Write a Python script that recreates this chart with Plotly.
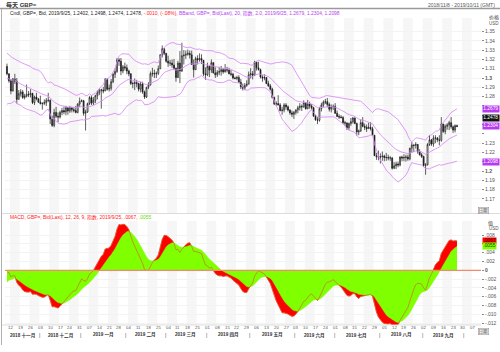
import plotly.graph_objects as go
import pandas as pd

W, H = 500, 352

# ---------------- data (GBP= daily) ----------------
# warm-up closes (2018-09-03 .. 2018-11-07) used for the indicators
warm_close = [
    1.2865, 1.2855, 1.2930, 1.2950, 1.2925,
    1.3035, 1.3030, 1.3045, 1.3115, 1.3070,
    1.3150, 1.3140, 1.3180, 1.3270, 1.3070,
    1.3095, 1.3195, 1.3185, 1.3080, 1.3030,
    1.3055, 1.2970, 1.2975, 1.3045, 1.3115,
    1.3060, 1.3135, 1.3190, 1.3235, 1.3150,
    1.3160, 1.3165, 1.3105, 1.3030, 1.3060,
    1.2975, 1.2970, 1.2900, 1.2820, 1.2805,
    1.2795, 1.2710, 1.2770, 1.2995, 1.2970,
    1.3045, 1.3085, 1.3125,
]

close = [
    1.3045, 1.2970,
    1.2860, 1.2990, 1.2965, 1.2770, 1.2830,
    1.2850, 1.2790, 1.2805, 1.2825, 1.2820,
    1.2835, 1.2735, 1.2795, 1.2775, 1.2740,
    1.2725, 1.2725, 1.2735, 1.2760, 1.2760,
    1.2560, 1.2490, 1.2630, 1.2590, 1.2580,
    1.2630, 1.2650, 1.2635, 1.2680, 1.2645,
    1.2680, 1.2660, 1.2650, 1.2630, 1.2720,
    1.2750, 1.2755, 1.2620, 1.2635, 1.2725,
    1.2790, 1.2730, 1.2760, 1.2810, 1.2840,
    1.2870, 1.2870, 1.2860, 1.2985, 1.2880,
    1.2890, 1.2960, 1.3040, 1.3070, 1.3195,
    1.3180, 1.3075, 1.3120, 1.3110, 1.3075,
    1.3045, 1.2940, 1.2940, 1.2950, 1.2940,
    1.2880, 1.2935, 1.2850, 1.2795, 1.2900,
    1.2925, 1.3045, 1.3050, 1.3045, 1.3050,
    1.3100, 1.3250, 1.3315, 1.3265, 1.3180,
    1.3160, 1.3160, 1.3140, 1.3105, 1.3005,
    1.3160, 1.3075, 1.3240, 1.3245, 1.3255,
    1.3265, 1.3250, 1.3145, 1.3090, 1.3210,
    1.3195, 1.3210, 1.3190, 1.3045, 1.3035,
    1.3125, 1.3085, 1.3165, 1.3055, 1.3035,
    1.3060, 1.3070, 1.3090, 1.3065, 1.3090,
    1.3085, 1.3045, 1.3040, 1.3000, 1.2995,
    1.3005, 1.2955, 1.2905, 1.2890, 1.2920,
    1.2935, 1.3035, 1.3045, 1.3030, 1.3170,
    1.3110, 1.3090, 1.3010, 1.3000, 1.3005,
    1.2940, 1.2915, 1.2880, 1.2790, 1.2720,
    1.2725, 1.2710, 1.2650, 1.2655, 1.2710,
    1.2690, 1.2655, 1.2625, 1.2610, 1.2630,
    1.2655, 1.2680, 1.2695, 1.2690, 1.2735,
    1.2670, 1.2720, 1.2700, 1.2680, 1.2590,
    1.2550, 1.2545, 1.2670, 1.2710, 1.2740,
    1.2745, 1.2715, 1.2665, 1.2690, 1.2695,
    1.2620, 1.2585, 1.2580, 1.2575, 1.2520,
    1.2515, 1.2465, 1.2510, 1.2530, 1.2570,
    1.2510, 1.2420, 1.2430, 1.2520, 1.2480,
    1.2470, 1.2455, 1.2470, 1.2455, 1.2385,
    1.2165, 1.2155, 1.2150, 1.2155, 1.2160,
    1.2145, 1.2145, 1.2140, 1.2140, 1.2030,
    1.2055, 1.2075, 1.2065, 1.2150, 1.2140,
    1.2145, 1.2150, 1.2130, 1.2245, 1.2280,
    1.2275, 1.2285, 1.2210, 1.2175, 1.2155,
    1.2060, 1.2065, 1.2285, 1.2335, 1.2290,
    1.2355, 1.2355, 1.2335, 1.2330, 1.2505,
    1.2425, 1.2480, 1.2495, 1.2520, 1.2475,
    1.2440, 1.2488, 1.2478,
]

high = [
    1.3155, 1.3050,
    1.2990, 1.3000, 1.3045, 1.3000, 1.2870,
    1.2880, 1.2870, 1.2830, 1.2930, 1.2860,
    1.2880, 1.2840, 1.2810, 1.2840, 1.2785,
    1.2810, 1.2740, 1.2770, 1.2785, 1.2840,
    1.2770, 1.2595, 1.2670, 1.2690, 1.2630,
    1.2650, 1.2680, 1.2690, 1.2700, 1.2685,
    1.2700, 1.2690, 1.2685, 1.2700, 1.2730,
    1.2790, 1.2770, 1.2765, 1.2660, 1.2735,
    1.2805, 1.2815, 1.2795, 1.2820, 1.2865,
    1.2890, 1.2885, 1.2905, 1.3000, 1.3000,
    1.2930, 1.2990, 1.3055, 1.3105, 1.3215,
    1.3215, 1.3215, 1.3140, 1.3165, 1.3145,
    1.3090, 1.3050, 1.2960, 1.2995, 1.2980,
    1.2950, 1.2960, 1.2960, 1.2865, 1.2905,
    1.2955, 1.3070, 1.3110, 1.3090, 1.3070,
    1.3135, 1.3255, 1.3350, 1.3320, 1.3270,
    1.3240, 1.3195, 1.3200, 1.3205, 1.3110,
    1.3185, 1.3290, 1.3380, 1.3300, 1.3295,
    1.3305, 1.3295, 1.3295, 1.3200, 1.3230,
    1.3245, 1.3265, 1.3255, 1.3180, 1.3115,
    1.3165, 1.3135, 1.3200, 1.3170, 1.3115,
    1.3085, 1.3120, 1.3130, 1.3105, 1.3150,
    1.3120, 1.3110, 1.3085, 1.3055, 1.3015,
    1.3025, 1.3030, 1.2990, 1.2940, 1.2945,
    1.2975, 1.3070, 1.3105, 1.3075, 1.3185,
    1.3175, 1.3175, 1.3100, 1.3030, 1.3040,
    1.3010, 1.2970, 1.2935, 1.2895, 1.2800,
    1.2750, 1.2815, 1.2730, 1.2690, 1.2730,
    1.2730, 1.2705, 1.2665, 1.2650, 1.2645,
    1.2665, 1.2700, 1.2730, 1.2715, 1.2760,
    1.2730, 1.2765, 1.2745, 1.2720, 1.2690,
    1.2600, 1.2580, 1.2690, 1.2735, 1.2760,
    1.2775, 1.2785, 1.2735, 1.2715, 1.2715,
    1.2730, 1.2650, 1.2610, 1.2600, 1.2590,
    1.2540, 1.2525, 1.2520, 1.2570, 1.2580,
    1.2575, 1.2520, 1.2445, 1.2555, 1.2580,
    1.2510, 1.2500, 1.2520, 1.2525, 1.2475,
    1.2385, 1.2195, 1.2220, 1.2190, 1.2210,
    1.2175, 1.2195, 1.2175, 1.2160, 1.2150,
    1.2095, 1.2100, 1.2100, 1.2160, 1.2165,
    1.2180, 1.2175, 1.2175, 1.2250, 1.2310,
    1.2285, 1.2310, 1.2290, 1.2235, 1.2195,
    1.2165, 1.2085, 1.2300, 1.2385, 1.2345,
    1.2385, 1.2385, 1.2365, 1.2385, 1.2580,
    1.2500, 1.2500, 1.2515, 1.2540, 1.2580,
    1.2490, 1.2500, 1.2498,
]

low = [
    1.3030, 1.2950,
    1.2825, 1.2855, 1.2935, 1.2725, 1.2770,
    1.2800, 1.2775, 1.2770, 1.2790, 1.2795,
    1.2790, 1.2720, 1.2710, 1.2760, 1.2735,
    1.2715, 1.2660, 1.2710, 1.2700, 1.2740,
    1.2505, 1.2475, 1.2470, 1.2570, 1.2525,
    1.2565, 1.2600, 1.2610, 1.2600, 1.2605,
    1.2625, 1.2630, 1.2630, 1.2620, 1.2620,
    1.2690, 1.2740, 1.2595, 1.2435, 1.2625,
    1.2710, 1.2710, 1.2710, 1.2730, 1.2770,
    1.2815, 1.2670, 1.2835, 1.2860, 1.2865,
    1.2855, 1.2865, 1.2945, 1.3000, 1.3055,
    1.3130, 1.3030, 1.3050, 1.3080, 1.3040,
    1.3020, 1.2925, 1.2890, 1.2870, 1.2900,
    1.2855, 1.2845, 1.2830, 1.2775, 1.2785,
    1.2880, 1.2920, 1.3015, 1.3000, 1.3000,
    1.3030, 1.3095, 1.3220, 1.3245, 1.3165,
    1.3120, 1.3130, 1.3110, 1.3085, 1.2960,
    1.3000, 1.2945, 1.3065, 1.3145, 1.3205,
    1.3240, 1.3210, 1.3140, 1.3005, 1.3085,
    1.3145, 1.3175, 1.3150, 1.3020, 1.2980,
    1.3020, 1.3010, 1.3055, 1.3050, 1.3000,
    1.3010, 1.3030, 1.3025, 1.3045, 1.3060,
    1.3060, 1.3040, 1.3020, 1.2985, 1.2985,
    1.2975, 1.2950, 1.2880, 1.2865, 1.2870,
    1.2905, 1.2930, 1.2995, 1.2985, 1.3020,
    1.3080, 1.3080, 1.2995, 1.2960, 1.2975,
    1.2935, 1.2905, 1.2865, 1.2780, 1.2710,
    1.2700, 1.2705, 1.2640, 1.2605, 1.2630,
    1.2660, 1.2640, 1.2605, 1.2580, 1.2560,
    1.2605, 1.2620, 1.2650, 1.2645, 1.2680,
    1.2660, 1.2665, 1.2670, 1.2660, 1.2585,
    1.2540, 1.2505, 1.2530, 1.2640, 1.2685,
    1.2720, 1.2685, 1.2640, 1.2630, 1.2655,
    1.2615, 1.2580, 1.2560, 1.2565, 1.2505,
    1.2485, 1.2440, 1.2440, 1.2485, 1.2510,
    1.2505, 1.2380, 1.2385, 1.2420, 1.2470,
    1.2440, 1.2420, 1.2455, 1.2435, 1.2380,
    1.2160, 1.2120, 1.2115, 1.2080, 1.2110,
    1.2105, 1.2110, 1.2115, 1.2110, 1.2015,
    1.2020, 1.2020, 1.2040, 1.2050, 1.2105,
    1.2105, 1.2100, 1.2110, 1.2115, 1.2195,
    1.2205, 1.2240, 1.2185, 1.2165, 1.2140,
    1.2045, 1.1960, 1.2060, 1.2270, 1.2270,
    1.2260, 1.2300, 1.2310, 1.2275, 1.2315,
    1.2410, 1.2395, 1.2445, 1.2440, 1.2455,
    1.2410, 1.2415, 1.2474,
]

month_names = ["一月", "二月", "三月", "四月", "五月", "六月",
               "七月", "八月", "九月", "十月", "十一月", "十二月"]

header_cndl = "Cndl, GBP=, Bid, 2019/9/25, 1.2402, 1.2498, 1.2474, 1.2478, "
header_chg = "-.0010, (-.08%), "
header_bb = "BBand, GBP=, Bid(Last), 20, 指数, 2.0, 2019/9/25, 1.2679, 1.2304, 1.2098"
header_macd = "MACD, GBP=, Bid(Last), 12, 26, 9, 指数, 2019/9/25, .0067, "
header_sig = ".0055"
price_boxes = ["1.2679", "1.2478", "1.2304", "1.2098"]
macd_boxes = [".0067", ".0055"]

# ---------------- derived series ----------------
cal = pd.bdate_range("2018-11-08", "2019-10-11")
n = len(close)
idx = list(range(n))
full = pd.Series(warm_close + close)
opn = [warm_close[-1]] + close[:-1]

ema12 = full.ewm(span=12, adjust=False).mean()
ema26 = full.ewm(span=26, adjust=False).mean()
macd_full = ema12 - ema26
sig_full = macd_full.ewm(span=9, adjust=False).mean()
mid_full = full.ewm(span=20, adjust=False).mean()
sd_full = full.rolling(20).std(ddof=0)
k = len(warm_close)
macd = macd_full[k:].tolist()
sig = sig_full[k:].tolist()
mid = mid_full[k:].tolist()
upper = (mid_full + 2 * sd_full)[k:].tolist()
lower = (mid_full - 2 * sd_full)[k:].tolist()

# ---------------- geometry helpers ----------------
def px(x):
    return x / W

def py(y):
    return 1 - y / H

X0, X1 = 5, 481
P_TOP, P_BOT = 18, 213
M_TOP, M_BOT = 221, 325
P_RANGE = [1.30 - (P_BOT - 78) / 930, 1.30 + (78 - P_TOP) / 930]
M_RANGE = [-(M_BOT - 270.3) / 4400, (270.3 - M_TOP) / 4400]
XR = [-1.0, 241.2]

FONT = "Liberation Sans, Arial, Noto Sans CJK SC, sans-serif"
BAND = "#d98ef5"
PURPLE = "#b73cf0"

fig = go.Figure()

fig.add_trace(go.Candlestick(
    x=idx, open=opn, high=high, low=low, close=close,
    increasing=dict(line=dict(color="#1a1a1a", width=0.7), fillcolor="#ffffff"),
    decreasing=dict(line=dict(color="#1a1a1a", width=0.7), fillcolor="#1a1a1a"),
    whiskerwidth=0, xaxis="x", yaxis="y", showlegend=False, hoverinfo="skip",
))
for band in (upper, mid, lower):
    fig.add_trace(go.Scatter(x=idx, y=band, mode="lines", line=dict(color=BAND, width=0.9),
                             xaxis="x", yaxis="y", showlegend=False, hoverinfo="skip"))

fig.add_trace(go.Scatter(x=idx, y=macd, mode="lines", fill="tozeroy", fillcolor="#ff0000",
                         line=dict(color="#ff0000", width=0.5), xaxis="x2", yaxis="y2",
                         showlegend=False, hoverinfo="skip"))
fig.add_trace(go.Scatter(x=idx, y=sig, mode="lines", fill="tozeroy", fillcolor="#80ff00",
                         line=dict(color="#80ff00", width=0.5), xaxis="x2", yaxis="y2",
                         showlegend=False, hoverinfo="skip"))
fig.add_trace(go.Scatter(x=idx, y=macd, mode="lines", line=dict(color="#cc6e2e", width=0.7),
                         xaxis="x2", yaxis="y2", showlegend=False, hoverinfo="skip"))

shapes = []
# alternating weekly stripes
mondays = [i for i, d in enumerate(cal) if d.weekday() == 0]
for j, m in enumerate(mondays):
    if j % 2 == 0:
        for yr in ("y domain", "y2 domain"):
            shapes.append(dict(type="rect", xref="x", yref=yr, x0=m - 0.5, x1=min(m + 4.5, XR[1]),
                               y0=0, y1=1, fillcolor="#f6f6f6", line=dict(width=0), layer="below"))
# zero line of MACD
shapes.append(dict(type="line", xref="x domain", yref="y2", x0=0, x1=1, y0=0, y1=0,
                   line=dict(color="#f08a6a", width=1.3)))
# frame lines
shapes.append(dict(type="line", xref="paper", yref="paper", x0=0, x1=1, y0=py(8.5), y1=py(8.5),
                   line=dict(color="#9a9a9a", width=1.5)))
shapes.append(dict(type="line", xref="paper", yref="paper", x0=px(1.5), x1=px(1.5), y0=py(9), y1=py(345),
                   line=dict(color="#b0b0b0", width=1)))
shapes.append(dict(type="line", xref="paper", yref="paper", x0=px(2), x1=1, y0=py(213.5), y1=py(213.5),
                   line=dict(color="#dcdcdc", width=1)))
shapes.append(dict(type="line", xref="paper", yref="paper", x0=px(2), x1=px(X1), y0=py(325), y1=py(325),
                   line=dict(color="#dcdcdc", width=1)))

ann = []
def text(x, y, s, size=5, color="#333", anchor="left", bold=False):
    ann.append(dict(x=px(x), y=py(y), xref="paper", yref="paper", text=("<b>%s</b>" % s) if bold else s,
                    showarrow=False, xanchor=anchor, yanchor="middle",
                    font=dict(size=size, color=color, family=FONT)))

text(4, 4.5, "每天 GBP=", size=6, color="#333", bold=True)
text(497, 4.5, "2018/11/8 - 2019/10/11 (GMT)", size=5, color="#555", anchor="right")
text(8, 13, header_cndl + "<span style='color:#ff2020'>" + header_chg + "</span>"
     + "<span style='color:%s'>" % PURPLE + header_bb + "</span>", size=4.9, color="#222")
text(8, 217.5, header_macd + "<span style='color:#66dd00'>" + header_sig + "</span>",
     size=4.9, color="#ff2020")

text(487, 17, "价格", size=5, color="#333")
text(487, 24, "USD", size=4.5, color="#555")
text(486, 223, "值", size=5, color="#333")
text(487, 229, "USD", size=4.5, color="#555")
for yv in (210.5, 331):
    ann.append(dict(x=px(489), y=py(yv), xref="paper", yref="paper", text="日期", showarrow=False,
                    yanchor="middle",
                    font=dict(size=4.5, color="#333", family=FONT), bordercolor="#888", borderwidth=0.5,
                    borderpad=0, bgcolor="#f8f8f8"))

# value boxes on right axis
box_y = [108.5, 118, 126.3, 162]
box_bg = [PURPLE, "#111111", PURPLE, PURPLE]
for lab, yy, bg in zip(price_boxes, box_y, box_bg):
    ann.append(dict(x=px(482), y=py(yy), xref="paper", yref="paper", text=lab, showarrow=False,
                    xanchor="left", yanchor="middle", bgcolor=bg, borderpad=0.3,
                    font=dict(size=4.8, color="#ffffff", family=FONT)))
for lab, yy, bg, fc in zip(macd_boxes, [240.5, 246], ["#ff0000", "#80ff00"], ["#550000", "#224400"]):
    ann.append(dict(x=px(482), y=py(yy), xref="paper", yref="paper", text=lab, showarrow=False,
                    xanchor="left", yanchor="middle", bgcolor=bg, borderpad=0.3,
                    font=dict(size=4.8, color=fc, family=FONT)))

# day labels
for m in mondays:
    ann.append(dict(x=m, y=py(327.5), xref="x2", yref="paper", text=cal[m].strftime("%d"),
                    showarrow=False, font=dict(size=4.3, color="#555", family=FONT), yanchor="middle"))
# month labels & separators
months = {}
for i, d in enumerate(cal):
    months.setdefault((d.year, d.month), []).append(i)
for (yr, mo), ids in months.items():
    a = max(ids[0] - 0.5, XR[0])
    b = min(ids[-1] + 0.5, XR[1])
    if ids[0] > 0:
        ann.append(dict(x=ids[0] - 0.5, y=py(335), xref="x2", yref="paper", text="|", showarrow=False,
                        font=dict(size=5, color="#444", family=FONT), yanchor="middle"))
    if b - a > 10:
        ann.append(dict(x=(a + b) / 2, y=py(335), xref="x2", yref="paper",
                        text="<b>%d %s</b>" % (yr, month_names[mo - 1]), showarrow=False,
                        font=dict(size=4.6, color="#333", family=FONT), yanchor="middle"))

# right-axis ticks (labels hidden where a value box sits on top)
p_ticks = [round(1.17 + 0.01 * j, 2) for j in range(19)]
hidden_p = {1.21, 1.24, 1.25, 1.26, 1.27}
p_text = []
for t in p_ticks:
    if t in hidden_p:
        p_text.append("")
    elif abs(t - 1.3) < 1e-9:
        p_text.append("<b>1.3</b>")
    elif abs(t - 1.2) < 1e-9:
        p_text.append("<b>1.2</b>")
    else:
        p_text.append("%.2f" % t)
m_ticks = [round(-0.012 + 0.002 * j, 3) for j in range(11)]
m_text = []
for t in m_ticks:
    if abs(t) < 1e-12:
        m_text.append("<b>0</b>")
    elif abs(t - 0.006) < 1e-9:
        m_text.append("")
    else:
        m_text.append(("%.3f" % t).replace("0.", "."))

axis_common = dict(showgrid=False, zeroline=False, showline=False)
fig.update_layout(
    width=W, height=H, margin=dict(l=0, r=0, t=0, b=0),
    paper_bgcolor="#ffffff", plot_bgcolor="#ffffff",
    showlegend=False, shapes=shapes, annotations=ann,
    font=dict(family=FONT),
    xaxis=dict(domain=[px(X0), px(X1)], range=XR, anchor="y", showticklabels=False,
               rangeslider=dict(visible=False), **axis_common),
    xaxis2=dict(domain=[px(X0), px(X1)], range=XR, anchor="y2", matches="x",
                showticklabels=False, **axis_common),
    yaxis=dict(domain=[py(P_BOT), py(P_TOP)], range=P_RANGE, side="right", anchor="x",
               tickvals=p_ticks, ticktext=p_text, ticks="outside", ticklen=2, tickcolor="#888",
               tickfont=dict(size=5, color="#555", family=FONT), showgrid=True,
               gridcolor="#f3f3f3", gridwidth=0.5, zeroline=False, showline=False),
    yaxis2=dict(domain=[py(M_BOT), py(M_TOP)], range=M_RANGE, side="right", anchor="x2",
                tickvals=m_ticks, ticktext=m_text, ticks="outside", ticklen=2, tickcolor="#888",
                tickfont=dict(size=5, color="#555", family=FONT), showgrid=True,
                gridcolor="#f3f3f3", gridwidth=0.5, zeroline=False, showline=False),
)

fig.write_html("out.html")
